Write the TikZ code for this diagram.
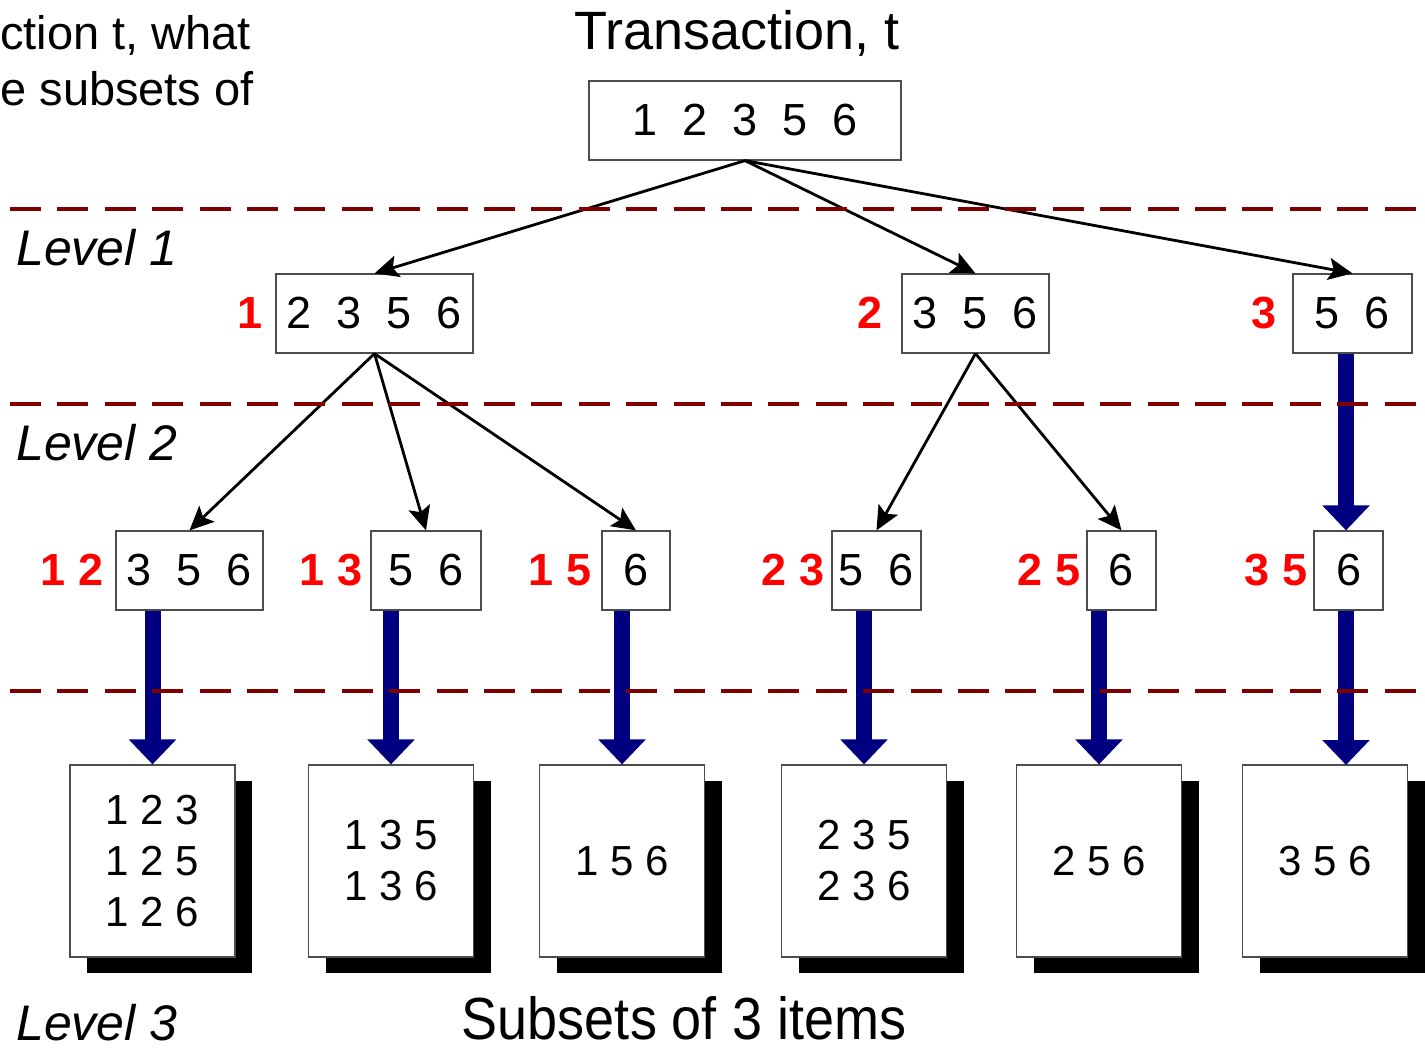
\documentclass[tikz,border=0pt]{standalone}
\usepackage{fontspec}
\setmainfont{Liberation Sans}
\usetikzlibrary{arrows.meta,shadows}
\definecolor{dashred}{RGB}{128,0,0}
\definecolor{navyblue}{RGB}{0,0,128}
\newcommand{\fs}[2]{\fontsize{#1}{#2}\selectfont}
\begin{document}
\begin{tikzpicture}[x=1pt,y=-1pt,
  itembox/.style={draw=black!70,line width=1.2pt,fill=white,rectangle,inner sep=0pt,
    minimum height=79pt,font=\fs{45}{50}},
  redlab/.style={text=red,font=\bfseries\fs{45}{50},inner sep=0pt},
  bottombox/.style={draw=black!70,line width=1.2pt,fill=white,rectangle,inner sep=0pt,
    minimum width=165pt,minimum height=192pt,align=center,font=\fs{42}{51},
    drop shadow={shadow xshift=17pt,shadow yshift=-16pt,opacity=1,fill=black}},
  thinarrow/.style={line width=2.8pt,-{Stealth[length=24pt,width=22pt,inset=5pt]}},
  fatarrow/.style={navyblue,line width=16pt,-{Triangle[length=25pt,width=46pt]}},
  levelline/.style={dashred,line width=3.5pt,dash pattern=on 31pt off 16.4pt},
  leveltext/.style={anchor=base west,font=\itshape\fs{50}{56},inner sep=0pt}]
\useasboundingbox (0,0) rectangle (1425,1049);

% texts
\node[anchor=base east,inner sep=0pt,font=\fs{47}{52}] (q1) at (251,50) {ction t, what};
\node[anchor=base east,inner sep=0pt,font=\fs{47}{52}] (q2) at (254,106) {e subsets of};
\node[anchor=base,inner sep=0pt,font=\fs{54}{60}] (title) at (737,50) {Transaction, t};
\node[leveltext] (lv1) at (16,265) {Level 1};
\node[leveltext] (lv2) at (16,460) {Level 2};
\node[leveltext] (lv3) at (16,1040) {Level 3};
\node[anchor=base,inner sep=0pt,font=\fs{54}{60},yscale=1.1] (sub) at (684,1039) {Subsets of 3 items};

% top box
\node[itembox,minimum width=312pt] (top) at (745,120.5) {1~~2~~3~~5~~6};

% level 1
\node[itembox,minimum width=197pt] (l1a) at (374.5,313.5) {2~~3~~5~~6};
\node[itembox,minimum width=147pt] (l1b) at (975.5,313.5) {3~~5~~6};
\node[itembox,minimum width=119pt] (l1c) at (1352.5,313.5) {5~~6};
\node[redlab] (r1a) at (250,313) {1};
\node[redlab] (r1b) at (870,313) {2};
\node[redlab] (r1c) at (1264,313) {3};

% level 2
\node[itembox,minimum width=147pt] (l2a) at (189.5,570.5) {3~~5~~6};
\node[itembox,minimum width=110pt] (l2b) at (426,570.5) {5~~6};
\node[itembox,minimum width=68pt] (l2c) at (636,570.5) {6};
\node[itembox,minimum width=89pt] (l2d) at (876.5,570.5) {5~~6};
\node[itembox,minimum width=69pt] (l2e) at (1121.5,570.5) {6};
\node[itembox,minimum width=69pt] (l2f) at (1348.5,570.5) {6};
\node[redlab] (r2a) at (72,570) {1 2};
\node[redlab] (r2b) at (331,570) {1 3};
\node[redlab] (r2c) at (560,570) {1 5};
\node[redlab] (r2d) at (793,570) {2 3};
\node[redlab] (r2e) at (1049,570) {2 5};
\node[redlab] (r2f) at (1276,570) {3 5};

% bottom boxes
\node[bottombox] (b1) at (152.5,861) {1 2 3\\1 2 5\\1 2 6};
\node[bottombox] (b2) at (391,861) {1 3 5\\1 3 6};
\node[bottombox] (b3) at (622,861) {1 5 6};
\node[bottombox] (b4) at (864,861) {2 3 5\\2 3 6};
\node[bottombox] (b5) at (1099,861) {2 5 6};
\node[bottombox] (b6) at (1325,861) {3 5 6};
\coordinate (c6) at (1346,765);

% thin arrows
\draw[thinarrow] (top.south) -- (l1a.north);
\draw[thinarrow] (top.south) -- (l1b.north);
\draw[thinarrow] (top.south) -- (l1c.north);
\draw[thinarrow] (l1a.south) -- (l2a.north);
\draw[thinarrow] (l1a.south) -- (l2b.north);
\draw[thinarrow] (l1a.south) -- (l2c.north);
\draw[thinarrow] (l1b.south) -- (l2d.north);
\draw[thinarrow] (l1b.south) -- (l2e.north);

% fat arrows
\draw[fatarrow] (l1c.south -| c6) -- (l2f.north -| c6);
\draw[fatarrow] (l2a.south -| b1.north) -- (b1.north);
\draw[fatarrow] (l2b.south -| b2.north) -- (b2.north);
\draw[fatarrow] (l2c.south -| b3.north) -- (b3.north);
\draw[fatarrow] (l2d.south -| b4.north) -- (b4.north);
\draw[fatarrow] (l2e.south -| b5.north) -- (b5.north);
\draw[fatarrow] (l2f.south -| c6) -- (c6);

% level lines
\coordinate (d1s) at (10,209); \coordinate (d1e) at (1425,209);
\coordinate (d2s) at (10,404); \coordinate (d2e) at (1425,404);
\coordinate (d3s) at (10,691); \coordinate (d3e) at (1425,691);
\draw[levelline] (d1s) -- (d1e);
\draw[levelline] (d2s) -- (d2e);
\draw[levelline] (d3s) -- (d3e);
\end{tikzpicture}
\end{document}
